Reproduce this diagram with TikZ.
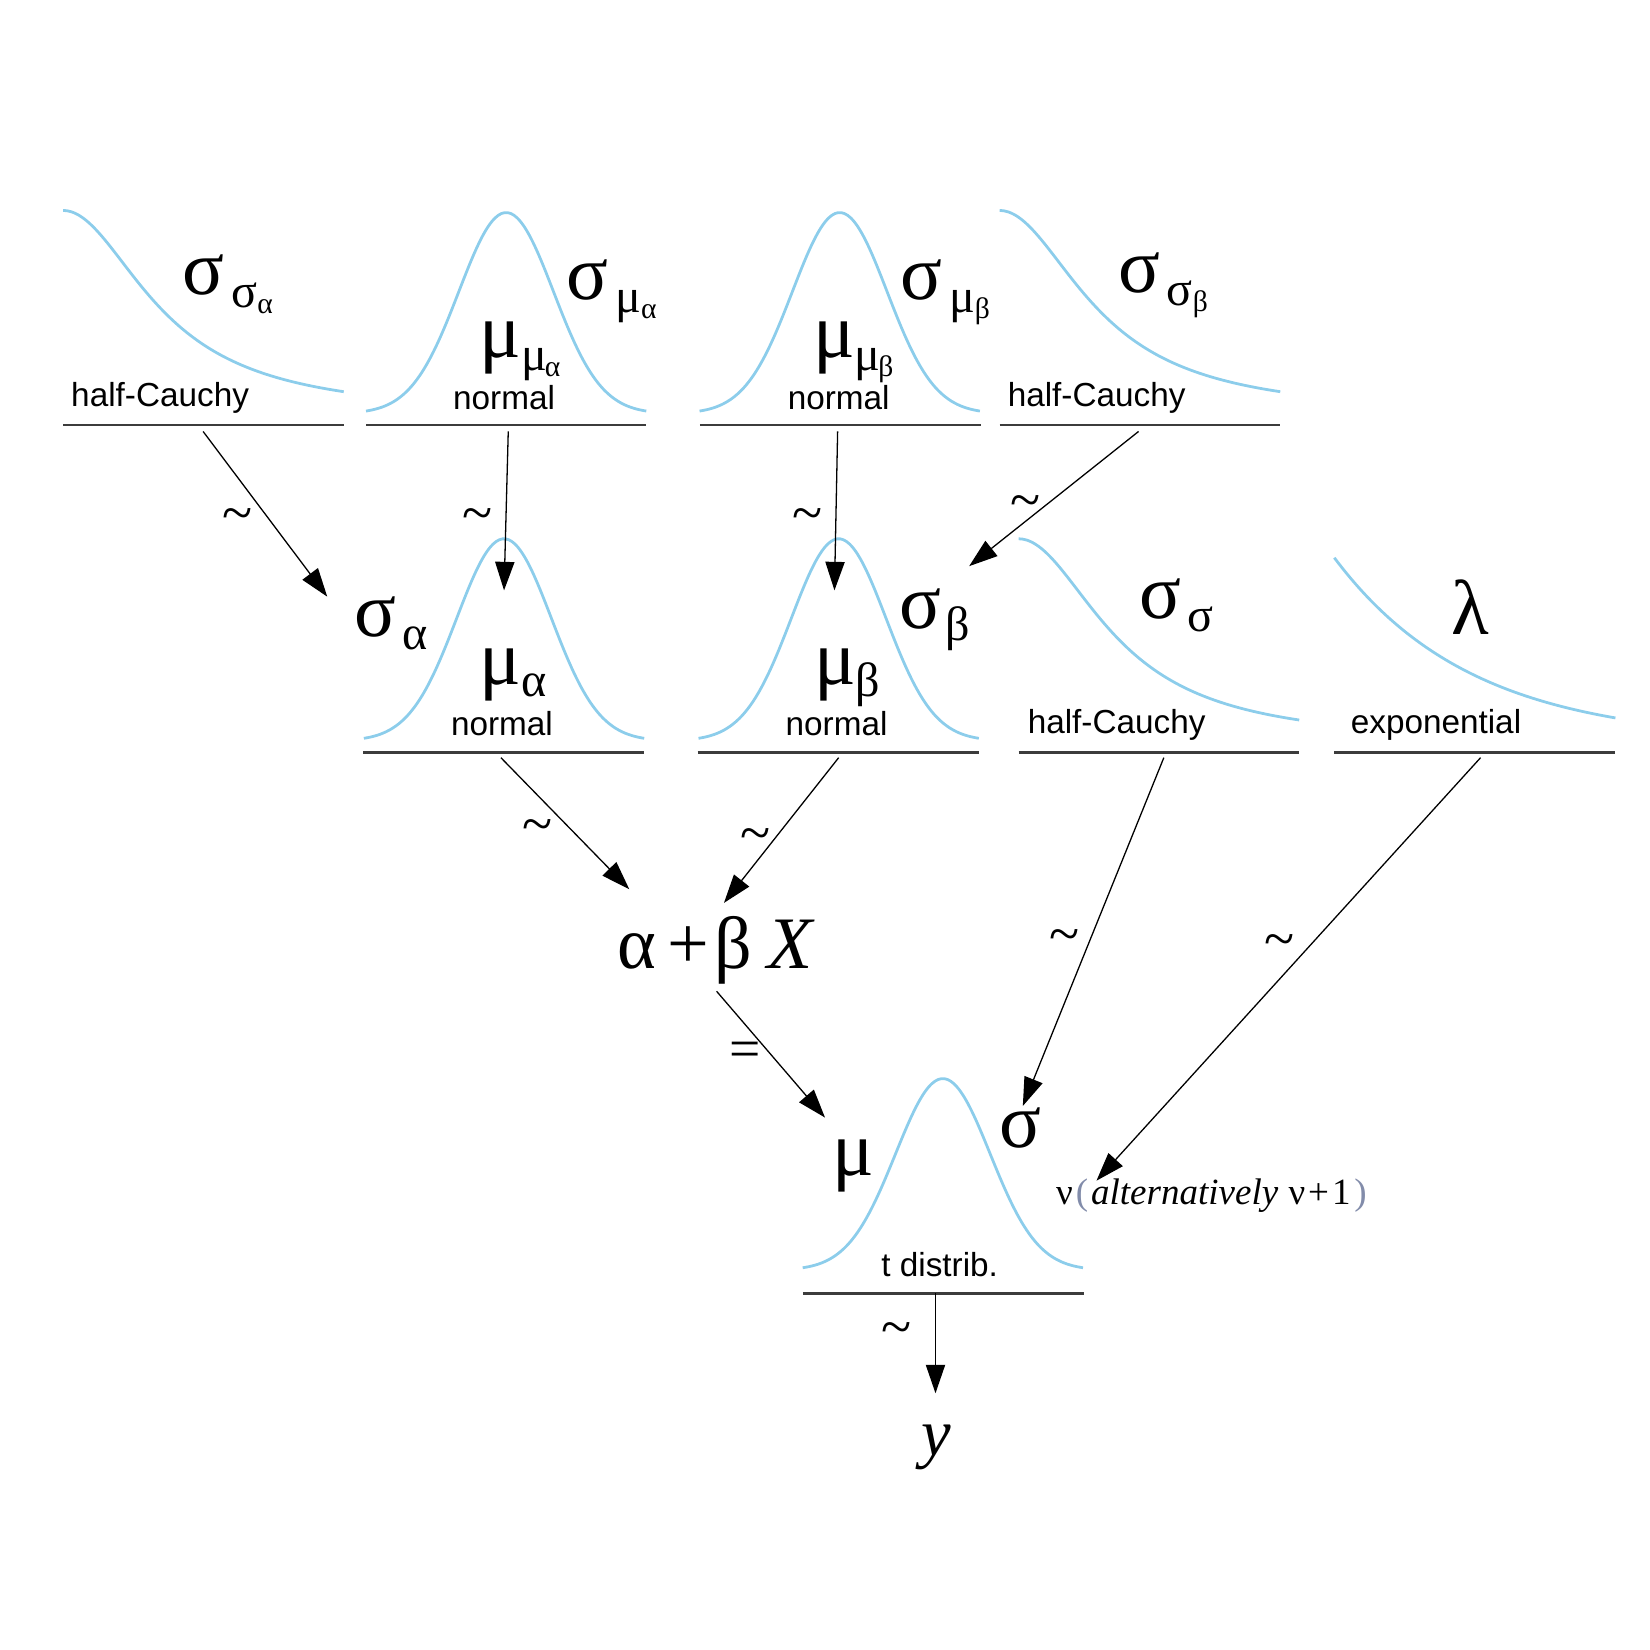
\documentclass[tikz,border=0pt]{standalone}
\usepackage{fontspec}
\setmainfont{Liberation Serif}
\newfontfamily\sansf{Liberation Sans}
\usetikzlibrary{arrows.meta}
\definecolor{curveblue}{RGB}{140,205,235}
\definecolor{basegray}{RGB}{60,60,60}
\definecolor{parengray}{RGB}{130,140,170}
\newcommand{\Gsub}{\fontsize{13}{13}\selectfont}
\newcommand{\Gsubsub}{\fontsize{8}{8}\selectfont}
\newcommand{\SubA}[3][1.8pt]{#2\hspace{#1}\raisebox{-3.4pt}{\Gsub #3}}
\newcommand{\SubB}[4][1.8pt]{#2\hspace{#1}\raisebox{-3.4pt}{\Gsub #3\raisebox{-1.6pt}{\Gsubsub #4}}}
\newcommand{\bellcurve}[3]{\draw[curve] plot[domain=-2.96:2.96,samples=90,smooth] ({#1+45*\x},{#3-(#3-#2)*exp(-\x*\x/2)});}
\newcommand{\hcauchy}[2]{\draw[curve] plot[domain=0:2.75,samples=70,smooth] ({#1+97*\x},{#2+195-195/(1+\x*\x)});}
\begin{document}
\begin{tikzpicture}[x=0.01cm,y=-0.01cm,
  curve/.style={draw=curveblue, line width=0.75pt},
  baseln/.style={draw=basegray, line width=0.7pt},
  conn/.style={draw=black, line width=0.35pt, -{Triangle[length=7.7pt,width=5.2pt]}},
  distname/.style={font=\sansf\fontsize{9}{9}\selectfont, inner sep=0pt},
  sym/.style={inner sep=0pt, font=\fontsize{21}{21}\selectfont},
  rel/.style={inner sep=0pt, font=\fontsize{15}{15}\selectfont}]
\useasboundingbox (0,0) rectangle (1568,1568);

% ---------- top row ----------
\hcauchy{60}{200}
\draw[baseln] (60,404) -- (327,404);
\node[distname, anchor=base west] (n1) at (67,386) {half-Cauchy};
\node[sym, anchor=base west] (ssa) at (173,280) {\SubB{σ}{σ}{α}};

\bellcurve{481}{202}{393}
\draw[baseln] (348,404) -- (614,404);
\node[distname, anchor=base] (n2) at (479,389) {normal};
\node[sym, anchor=base west] (mma) at (455,340) {\SubB[0pt]{μ}{μ\hspace{-0.6pt}}{α}};
\node[sym, anchor=base west] (sma) at (538,285) {\SubB{σ}{μ}{α}};

\bellcurve{798}{202}{393}
\draw[baseln] (665,404) -- (932,404);
\node[distname, anchor=base] (n3) at (797,389) {normal};
\node[sym, anchor=base west] (mmb) at (772,340) {\SubB[0pt]{μ}{μ\hspace{-0.6pt}}{β}};
\node[sym, anchor=base west] (smb) at (855,285) {\SubB{σ}{μ}{β}};

\hcauchy{950}{200}
\draw[baseln] (950,404) -- (1216,404);
\node[distname, anchor=base west] (n4) at (957,386) {half-Cauchy};
\node[sym, anchor=base west] (ssb) at (1062,278) {\SubB{σ}{σ}{β}};

% ---------- middle row ----------
\bellcurve{479}{512}{704}
\draw[baseln] (345,715) -- (612,715);
\node[distname, anchor=base] (n5) at (477,699) {normal};
\node[sym, anchor=base west] (ma) at (455,650) {\SubA[0pt]{μ}{α}};
\node[sym, anchor=base west] (sa) at (336,605) {\SubA{σ}{α}};

\bellcurve{797}{512}{704}
\draw[baseln] (663,715) -- (930,715);
\node[distname, anchor=base] (n6) at (795,699) {normal};
\node[sym, anchor=base west] (mb) at (773,650) {\SubA[0pt]{μ}{β}};
\node[sym, anchor=base west] (sb) at (854,597) {\SubA[1.2pt]{σ}{β}};

\hcauchy{968}{512}
\draw[baseln] (968,715) -- (1234,715);
\node[distname, anchor=base west] (n7) at (976,697) {half-Cauchy};
\node[sym, anchor=base west] (ss) at (1082,588) {\SubA{σ}{σ}};

\draw[curve] plot[domain=0:2.04,samples=60,smooth] ({1268+131*\x},{705-175*exp(-\x)});
\draw[baseln] (1268,715) -- (1535,715);
\node[distname, anchor=base west] (n8) at (1283,697) {exponential};
\node[sym, anchor=base west] (lam) at (1379,603) {λ};

% ---------- linear predictor ----------
\node[sym, anchor=base west, font=\fontsize{20}{20}\selectfont] (lin) at (586,920) {α\hspace{3pt}+\hspace{1.5pt}β\hspace{4pt}\textit{X}};

% ---------- likelihood ----------
\bellcurve{896}{1025}{1207}
\draw[baseln] (763,1229) -- (1030,1229);
\node[distname, anchor=base] (n9) at (893,1213) {t distrib.};
\node[sym, anchor=base west] (mu) at (790,1117) {μ};
\node[sym, anchor=base west] (sig) at (949,1090) {σ};
\node[inner sep=0pt, anchor=base west, font=\fontsize{10}{10}\selectfont] (nu) at (1003,1145)
  {ν\hspace{0.8pt}{\color{parengray}(}\hspace{0.8pt}\textit{alternatively}\hspace{2.8pt}ν\hspace{0.8pt}+\hspace{0.8pt}1\hspace{1pt}{\color{parengray})}};
\node[sym, anchor=base, font=\fontsize{18}{18}\selectfont] (y) at (890,1383) {\textit{y}};

% ---------- connector end points ----------
\coordinate (c1s) at (193,410);  \coordinate (c1e) at (311,567);
\coordinate (c2s) at (483,410);  \coordinate (c2e) at (479,561);
\coordinate (c3s) at (796,410);  \coordinate (c3e) at (793,561);
\coordinate (c4s) at (1082,410); \coordinate (c4e) at (921,538);
\coordinate (c5s) at (476,720);  \coordinate (c5e) at (598,845);
\coordinate (c6s) at (797,720);  \coordinate (c6e) at (688,858);
\coordinate (c7s) at (1106,720); \coordinate (c7e) at (972,1051);
\coordinate (c8s) at (1407,720); \coordinate (c8e) at (1042,1122);
\coordinate (c9s) at (681,942);  \coordinate (c9e) at (784,1062);
\coordinate (c10s) at (889,1229); \coordinate (c10e) at (889,1324);

\draw[conn] (c1s) -- (c1e);
\draw[conn] (c2s) -- (c2e);
\draw[conn] (c3s) -- (c3e);
\draw[conn] (c4s) -- (c4e);
\draw[conn] (c5s) -- (c5e);
\draw[conn] (c6s) -- (c6e);
\draw[conn] (c7s) -- (c7e);
\draw[conn] (c8s) -- (c8e);
\draw[conn] (c9s) -- (c9e);
\draw[conn] (c10s) -- (c10e);

% ---------- relation labels ----------
\node[rel] (t1) at (226,494) {\textasciitilde};
\node[rel] (t2) at (454,494) {\textasciitilde};
\node[rel] (t3) at (767,494) {\textasciitilde};
\node[rel] (t4) at (975,482) {\textasciitilde};
\node[rel] (t5) at (511,790) {\textasciitilde};
\node[rel] (t6) at (718,798) {\textasciitilde};
\node[rel] (t7) at (1012,894) {\textasciitilde};
\node[rel] (t8) at (1216,899) {\textasciitilde};
\node[rel] (eq) at (708,1002) {=};
\node[rel] (t10) at (852,1268) {\textasciitilde};
\end{tikzpicture}
\end{document}
